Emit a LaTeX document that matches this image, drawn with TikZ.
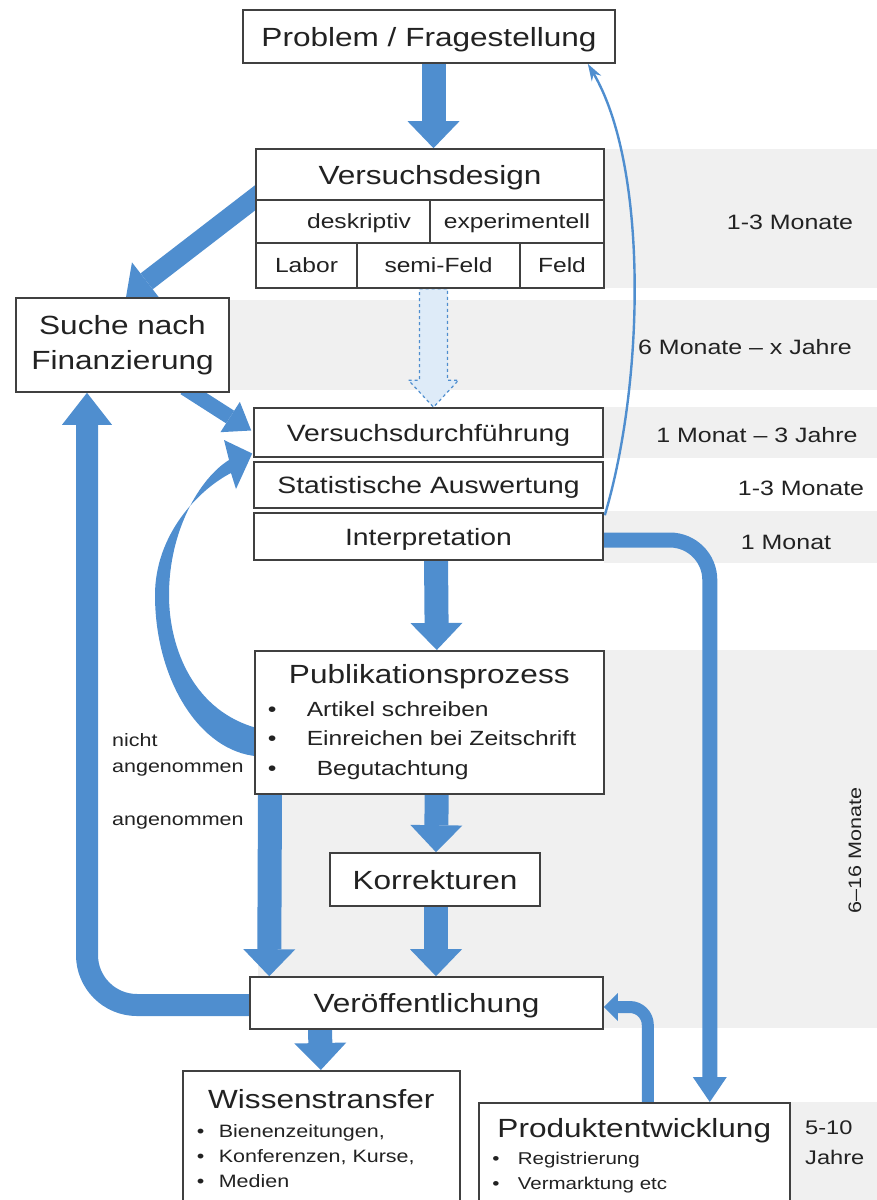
\documentclass[tikz,border=0pt]{standalone}
\usepackage{fontspec}
\setmainfont{Liberation Sans}[FakeStretch=1.2]
\usetikzlibrary{arrows.meta,calc}
\definecolor{flowblue}{RGB}{79,142,207}
\definecolor{paleblue}{RGB}{222,235,248}
\definecolor{bandgray}{RGB}{240,240,240}
\definecolor{boxline}{RGB}{64,64,64}
\definecolor{inktext}{RGB}{34,34,34}
\pgfdeclarelayer{bands}
\pgfdeclarelayer{flow}
\pgfsetlayers{bands,flow,main}
\tikzset{
  box/.style={draw=boxline, line width=1.6pt, fill=white, inner sep=0pt, text=inktext},
  big/.style={font=\fontsize{26.3}{31}\selectfont, text height=19pt, text depth=0pt},
  mid/.style={font=\fontsize{23.6}{28}\selectfont, text height=17pt, text depth=0pt},
  small/.style={font=\fontsize{20.5}{24}\selectfont, text height=14.8pt, text depth=0pt},
  band/.style={fill=bandgray, draw=none},
  timelabel/.style={text=inktext, inner sep=0pt, font=\fontsize{20.8}{25}\selectfont},
  fat/.style={draw=flowblue, line width=24pt, -{Triangle[width=52pt,length=27pt,line width=0pt]}},
  slim/.style={draw=flowblue, line width=15pt, rounded corners=40pt, -{Triangle[width=34pt,length=25pt,line width=0pt]}},
  thinflow/.style={draw=flowblue, line width=2.4pt, -{Stealth[length=17pt,width=11pt]}},
  paleflow/.style={fill=paleblue, draw=flowblue, line width=1.2pt, dash pattern=on 3pt off 3pt},
}
\begin{document}
\begin{tikzpicture}[x=1pt,y=1pt,yscale=-1,xscale=1]
    \useasboundingbox (0,0) rectangle (877,1200);

    % Time bands
    \begin{pgfonlayer}{bands}
    \fill[band] (604,149) rectangle (877,288);
    \fill[band] (229,300) rectangle (877,390);
    \fill[band] (604,407) rectangle (877,458);
    \fill[band] (604,511) rectangle (877,563);
    \fill[band] (258,650) rectangle (877,1028);
    \fill[band] (789,1102) rectangle (877,1200);
    \end{pgfonlayer}

    % Text Node
    \node[box, big, minimum width=372pt, minimum height=53pt] (prob) at (429,36.5) {Problem / Fragestellung};
    % Text Node
    \node[box, big, minimum width=348pt, minimum height=51pt] (vd) at (430,174.5) {Versuchsdesign};
    \node[box, small, inner xsep=19pt, text width=136pt, align=right, minimum height=43pt] (vdde) at (343,221.5) {deskriptiv};
    \node[box, small, minimum width=174pt, minimum height=43pt] (vdex) at (517,221.5) {experimentell};
    \node[box, small, minimum width=101pt, minimum height=45pt] (vdla) at (306.5,265.5) {Labor};
    \node[box, small, minimum width=163pt, minimum height=45pt] (vdsf) at (438.5,265.5) {semi-Feld};
    \node[box, small, minimum width=84pt, minimum height=45pt] (vdfe) at (562,265.5) {Feld};
    % Text Node
    \node[box, align=center, minimum width=213pt, minimum height=94pt, font=\fontsize{26.3}{35}\selectfont] (fin) at (122.5,345) {Suche nach\\Finanzierung};
    % Text Node
    \node[box, mid, minimum width=349pt, minimum height=49pt] (vdf) at (428.5,432.5) {Versuchsdurchführung};
    \node[box, mid, minimum width=349pt, minimum height=46pt] (stat) at (428.5,485) {Statistische Auswertung};
    \node[box, mid, minimum width=349pt, minimum height=47pt] (interp) at (428.5,536.5) {Interpretation};
    % Text Node
    \node[box, anchor=north west, minimum width=349pt, minimum height=143pt, inner xsep=13pt, text width=323pt, align=left, font=\fontsize{20.5}{29.5}\selectfont] (pub) at (254,650)
      {\makebox[323pt]{\fontsize{26.3}{29.5}\selectfont Publikationsprozess}\\[3pt]
       \makebox[39pt][l]{\textbullet}Artikel schreiben\\
       \makebox[39pt][l]{\textbullet}Einreichen bei Zeitschrift\\
       \makebox[39pt][l]{\textbullet}\hspace{10pt}Begutachtung};
    % Text Node
    \node[box, big, minimum width=210pt, minimum height=53pt] (kor) at (435,879.5) {Korrekturen};
    \node[box, big, minimum width=353pt, minimum height=52pt] (ver) at (426.5,1003) {Veröffentlichung};
    % Text Node
    \node[box, anchor=north west, minimum width=277pt, minimum height=135pt, inner xsep=14pt, text width=249pt, align=left, font=\fontsize{17.9}{25}\selectfont] (wis) at (182,1070)
      {\makebox[249pt]{\fontsize{26.3}{25}\selectfont Wissenstransfer}\\[4pt]
       \makebox[22pt][l]{\textbullet}Bienenzeitungen,\\
       \makebox[22pt][l]{\textbullet}Konferenzen, Kurse,\\
       \makebox[22pt][l]{\textbullet}Medien};
    \node[box, anchor=north west, minimum width=311pt, minimum height=106pt, inner xsep=13.5pt, text width=284pt, align=left, font=\fontsize{17.1}{25}\selectfont] (prod) at (478,1102)
      {\makebox[284pt]{\fontsize{26.3}{25}\selectfont Produktentwicklung}\\[2.6pt]
       \makebox[25.5pt][l]{\textbullet}Registrierung\\
       \makebox[25.5pt][l]{\textbullet}Vermarktung etc};

    % Time Labels
    \node[timelabel] (t1) at (790,222) {1-3 Monate};
    \node[timelabel] (t2) at (745,347) {6 Monate -- x Jahre};
    \node[timelabel] (t3) at (757,435) {1 Monat -- 3 Jahre};
    \node[timelabel] (t4) at (801,488) {1-3 Monate};
    \node[timelabel] (t5) at (786,542) {1 Monat};
    \node[timelabel, rotate=90, font=\fontsize{18}{22}\selectfont] (t6) at (855,850) {6--16 Monate};
    \node[timelabel, anchor=west, align=left, font=\fontsize{19.7}{30}\selectfont] (t7) at (805,1143) {5-10\\Jahre};
    \node[timelabel, anchor=west, align=left, font=\fontsize{17.9}{26}\selectfont] (no) at (112,755) {nicht\\angenommen};
    \node[timelabel, anchor=west, font=\fontsize{17.9}{26}\selectfont] (yes) at (112,823) {angenommen};

    \begin{pgfonlayer}{flow}
    % Connection
    \draw[fat] ($(prob.south)+(4.5,-4)$) -- ($(vd.north)+(3.5,0)$);
    % Connection
    \draw[fat, line width=20pt, -{Triangle[width=48pt,length=26pt,line width=0pt]}] ($(vd.west)+(12,14)$) -- ($(fin.north)+(3.5,0)$);
    % Connection
    \draw[fat, line width=15pt, -{Triangle[width=36pt,length=25pt,line width=0pt]}] ($(fin.south)+(62,-5)$) -- ($(vdf.west)+(-2,-2)$);
    % Connection
    \coordinate (dtop) at ($(vdsf.south)+(-5,0)$);
    \coordinate (dtip) at ($(vdf.north)+(5,0)$);
    \draw[paleflow] ($(dtop)+(-14,0)$) -- ($(dtop)+(14,0)$) -- ($(dtip)+(14,-27)$) -- ($(dtip)+(25,-27)$)
      -- (dtip) -- ($(dtip)+(-25,-27)$) -- ($(dtip)+(-14,-27)$) -- cycle;
    % Connection
    \draw[fat] ($(interp.south)+(7.5,-4)$) -- ($(pub.north)+(7.5,0)$);
    \draw[fat] ($(pub.south)+(7.5,-4)$) -- ($(kor.north)+(1,0)$);
    \draw[fat] ($(kor.south)+(1,-4)$) -- ($(ver.north)+(9.5,0)$);
    \draw[fat] ($(pub.south west)+(16,-4)$) -- ($(ver.north west)+(20,0)$);
    \draw[fat] ($(ver.south)+(-106.5,-4)$) -- ($(wis.north)+(-0.5,0)$);
    % Connection
    \draw[fat, line width=22pt, rounded corners=50pt, -{Triangle[width=50pt,length=32pt,line width=0pt]}] ($(ver.west)+(6,2)$) -| ($(fin.south)+(-35.5,0)$);
    % Connection
    \draw[slim] ($(interp.east)+(-5,3.5)$) -| ($(prod.north)+(75.5,0)$);
    \draw[draw=flowblue, line width=12pt, rounded corners=18pt, -{Triangle[width=28pt,length=14pt,line width=0pt]}] ($(prod.north)+(13.5,5)$) |- ($(ver.east)+(0,4)$);
    % Connection
    \draw[thinflow] ($(interp.north east)+(1,3)$) .. controls (645,380) and (648,165) .. ($(prob.south east)+(-28,0)$);
    % Connection
    \fill[flowblue] ($(pub.west)+(4,6)$) .. controls (195,712) and (169,650) .. (169,595) .. controls (169,530) and (200,478) .. (229,460)
      -- (224,440) -- ($(vdf.west)+(-1,21)$) -- (236,489) -- (231,473)
      .. controls (198,490) and (155,535) .. (155,595) .. controls (155,680) and (200,752) .. ($(pub.west)+(4,34)$) -- cycle;
    \end{pgfonlayer}
\end{tikzpicture}
\end{document}
